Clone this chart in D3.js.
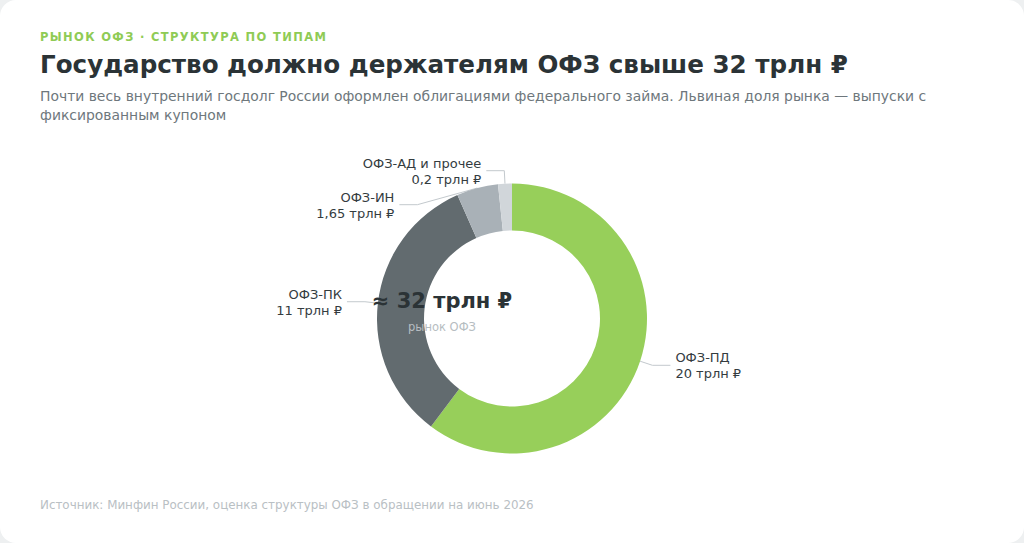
<!DOCTYPE html>
<html lang="ru">
<head>
<meta charset="utf-8">
<script src="https://cdn.jsdelivr.net/npm/d3@7"></script>
<style>
  html, body { margin: 0; padding: 0; background: #eef0f1; }
  svg { display: block; }
</style>
</head>
<body>
<div id="chart"></div>
<script>
// Структура рынка ОФЗ, трлн ₽
const types = ['ОФЗ-ПД', 'ОФЗ-ПК', 'ОФЗ-ИН', 'ОФЗ-АД и прочее'];
const values = [20, 11, 1.65, 0.2];
const valueLabels = ['20 трлн ₽', '11 трлн ₽', '1,65 трлн ₽', '0,2 трлн ₽'];
const colors = ['#97cf5a', '#626b6f', '#a9b1b7', '#d1d6da'];

const kicker = 'РЫНОК ОФЗ · СТРУКТУРА ПО ТИПАМ';
const title = 'Государство должно держателям ОФЗ свыше 32 трлн ₽';
const subtitle = 'Почти весь внутренний госдолг России оформлен облигациями федерального займа. Львиная доля рынка — выпуски с фиксированным купоном';
const centerValue = '≈ 32 трлн ₽';
const centerLabel = 'рынок ОФЗ';
const source = 'Источник: Минфин России, оценка структуры ОФЗ в обращении на июнь 2026';

const W = 1024, H = 543;
const cx = 512, cy = 318.5;
const rOuter = 135, rInner = 88, rElbow = 148;
const minShow = 0.55; // tiny slices get a visible minimum width

const svg = d3.select('#chart').append('svg')
    .attr('width', W).attr('height', H)
    .style('font-family', '"DejaVu Sans", sans-serif');

// card
svg.append('rect')
    .attr('x', 0).attr('y', 0).attr('width', W).attr('height', H)
    .attr('rx', 16).attr('fill', '#ffffff');

// header
svg.append('text')
    .attr('x', 40).attr('y', 41)
    .attr('fill', '#8fcb55').attr('font-size', '11.5px').attr('font-weight', 700)
    .attr('letter-spacing', '1.35px')
    .text(kicker);

svg.append('text')
    .attr('x', 40).attr('y', 73)
    .attr('fill', '#2b3336').attr('font-size', '24.6px').attr('font-weight', 700)
    .text(title);

// subtitle wrapping
const sub = svg.append('text')
    .attr('x', 40).attr('y', 101)
    .attr('fill', '#6e777c').attr('font-size', '13.9px');
{
    const words = subtitle.split(' ');
    const maxW = 900;
    let line = [];
    let tspan = sub.append('tspan').attr('x', 40).attr('dy', 0);
    words.forEach(w => {
        line.push(w);
        tspan.text(line.join(' '));
        if (tspan.node().getComputedTextLength() > maxW && line.length > 1) {
            line.pop();
            tspan.text(line.join(' '));
            line = [w];
            tspan = sub.append('tspan').attr('x', 40).attr('dy', 19).text(w);
        }
    });
}

// donut
const data = types.map((t, i) => ({ name: t, value: values[i], label: valueLabels[i], color: colors[i] }));

const pie = d3.pie()
    .sort(null)
    .value(d => Math.max(d.value, minShow));

const arcs = pie(data);
const arc = d3.arc().innerRadius(rInner).outerRadius(rOuter);

const g = svg.append('g').attr('transform', `translate(${cx},${cy})`);
const linesG = g.append('g');
const arcsG = g.append('g');
const labelsG = g.append('g');

arcsG.selectAll('path')
    .data(arcs)
    .join('path')
    .attr('d', arc)
    .attr('fill', d => d.data.color);

// label layout: elbow on a ring just outside the donut, push apart on each side
const mid = d => (d.startAngle + d.endAngle) / 2;
const labels = arcs.map(d => {
    const a = mid(d);
    return {
        d: d,
        a: a,
        side: Math.sin(a) >= 0 ? 1 : -1,
        px: rOuter * Math.sin(a), py: -rOuter * Math.cos(a),
        ex: rElbow * Math.sin(a), ey: -rElbow * Math.cos(a)
    };
});

const minGap = 34;
[-1, 1].forEach(side => {
    const s = labels.filter(l => l.side === side).sort((a, b) => a.ey - b.ey);
    for (let i = 1; i < s.length; i++) {
        if (s[i].ey < s[i - 1].ey + minGap) {
            s[i].ey = s[i - 1].ey + minGap;
            const dy = Math.min(Math.abs(s[i].ey), rElbow);
            s[i].ex = side * Math.sqrt(rElbow * rElbow - dy * dy);
        }
    }
});

labels.forEach(l => {
    l.lx = l.ex + l.side * 18;
});

linesG.selectAll('polyline')
    .data(labels)
    .join('polyline')
    .attr('points', l => [[l.px, l.py], [l.ex, l.ey], [l.lx, l.ey]].map(p => p.join(',')).join(' '))
    .attr('fill', 'none')
    .attr('stroke', '#c3c9cd')
    .attr('stroke-width', 1);

const lab = labelsG.selectAll('text')
    .data(labels)
    .join('text')
    .attr('x', l => l.lx + l.side * 5)
    .attr('y', l => l.ey - 3)
    .attr('text-anchor', l => l.side > 0 ? 'start' : 'end')
    .attr('fill', '#343c3f')
    .attr('font-size', '13px');

lab.append('tspan')
    .attr('x', l => l.lx + l.side * 5)
    .text(l => l.d.data.name);
lab.append('tspan')
    .attr('x', l => l.lx + l.side * 5)
    .attr('dy', 16)
    .text(l => l.d.data.label);

// center text
g.append('text')
    .attr('x', -70).attr('y', -11)
    .attr('text-anchor', 'middle')
    .attr('fill', '#2b3336').attr('font-size', '21px').attr('font-weight', 700)
    .text(centerValue);

g.append('text')
    .attr('x', -70).attr('y', 12)
    .attr('text-anchor', 'middle')
    .attr('fill', '#b6bdc1').attr('font-size', '11.5px')
    .text(centerLabel);

// footer
svg.append('text')
    .attr('x', 40).attr('y', 509)
    .attr('fill', '#b9c0c4').attr('font-size', '11.9px')
    .text(source);
</script>
</body>
</html>
